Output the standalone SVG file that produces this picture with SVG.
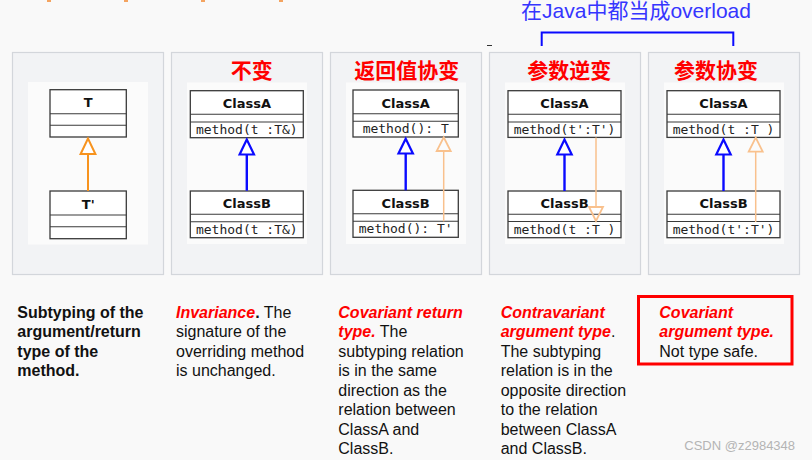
<svg xmlns="http://www.w3.org/2000/svg" width="812" height="460" viewBox="0 0 812 460">
<defs>
<style>
.panel{fill:#f2f3f5;stroke:#d3d6db;stroke-width:1.2}
.inner{fill:#fbfbfb}
.box{fill:#ffffff;stroke:#3a3a3a;stroke-width:1.3}
.div{stroke:#3a3a3a;stroke-width:1.1}
.cname{font-family:"DejaVu Sans",sans-serif;font-weight:bold;font-size:13px;fill:#111;text-anchor:middle}
.meth{font-family:"DejaVu Sans Mono",monospace;font-size:13px;fill:#222;text-anchor:middle}
.title{font-family:"Noto Sans CJK SC",sans-serif;font-weight:bold;font-size:21px;fill:#ff0000;text-anchor:middle}
.blue{stroke:#0a0aff;stroke-width:2.4;fill:none}
.bluetri{stroke:#0a0aff;stroke-width:2.2;fill:#ffffff}
.org{stroke:#f7931e;stroke-width:2;fill:none}
.orgtri{stroke:#f7931e;stroke-width:2;fill:#ffffff}
.lorg{stroke:#f9c18d;stroke-width:1.5;fill:none}
.lorgtri{stroke:#f9c18d;stroke-width:1.8;fill:none}
.desc{font-family:"Liberation Sans",Arial,sans-serif;font-size:16px;fill:#111}
.b{font-weight:bold}
.ri{font-weight:bold;font-style:italic;fill:#ff0000}
</style>
</defs>
<rect width="812" height="460" fill="#f9f9f9"/>
<g id="top-fragments" fill="#f4a460">
<rect x="47" y="0" width="4" height="2"/>
<rect x="124" y="0" width="4" height="2"/>
<rect x="201" y="0" width="4" height="2"/>
<rect x="279" y="0" width="4" height="2"/>
</g>
<g id="overload-label">
<text x="636" y="17.5" font-family="'Liberation Sans','Noto Sans CJK SC',sans-serif" font-size="21" fill="#3535ff" text-anchor="middle">在Java中都当成overload</text>
<path d="M541.7,46 V32.5 H733.3 V46" fill="none" stroke="#0a0aff" stroke-width="2"/>
<line x1="487" y1="45.5" x2="492" y2="45.5" stroke="#333" stroke-width="1"/>
</g>
<g id="panel1">
<rect class="panel" x="12.5" y="52.5" width="151" height="222"/>
<rect class="inner" x="28" y="82" width="120" height="162.5"/>
<g id="classT">
<rect class="box" x="50" y="89.7" width="76.3" height="47.3"/>
<line class="div" x1="50" y1="113.7" x2="126.3" y2="113.7"/>
<line class="div" x1="50" y1="125.3" x2="126.3" y2="125.3"/>
<text class="cname" x="88.2" y="107">T</text>
</g>
<g id="classT2">
<rect class="box" x="50" y="191" width="76.3" height="47.7"/>
<line class="div" x1="50" y1="215" x2="126.3" y2="215"/>
<line class="div" x1="50" y1="226.7" x2="126.3" y2="226.7"/>
<text class="cname" x="88.2" y="208.5">T'</text>
</g>
</g>
<g id="panel2">
<rect class="panel" x="171.5" y="52.5" width="151" height="222"/>
<rect class="inner" x="187" y="82.5" width="120" height="161.5"/>
<text class="title" x="251.7" y="77.5">不变</text>
<g id="p2A">
<rect class="box" x="190.3" y="90.7" width="113" height="47"/>
<line class="div" x1="190.3" y1="114.3" x2="303.3" y2="114.3"/>
<line class="div" x1="190.3" y1="122" x2="303.3" y2="122"/>
<text class="cname" x="246.8" y="108">ClassA</text>
<text class="meth" x="246.8" y="133.5">method(t :T&amp;)</text>
</g>
<g id="p2B">
<rect class="box" x="190.3" y="191" width="113" height="46.7"/>
<line class="div" x1="190.3" y1="214.3" x2="303.3" y2="214.3"/>
<line class="div" x1="190.3" y1="221.7" x2="303.3" y2="221.7"/>
<text class="cname" x="246.8" y="208.3">ClassB</text>
<text class="meth" x="246.8" y="233.5">method(t :T&amp;)</text>
</g>
</g>
<g id="panel3">
<rect class="panel" x="330.5" y="52.5" width="151" height="222"/>
<rect class="inner" x="346" y="82.5" width="120" height="161.5"/>
<text class="title" x="406.7" y="77.5">返回值协变</text>
<g id="p3A">
<rect class="box" x="353" y="90" width="105.3" height="47"/>
<line class="div" x1="353" y1="113.7" x2="458.3" y2="113.7"/>
<line class="div" x1="353" y1="121.3" x2="458.3" y2="121.3"/>
<text class="cname" x="405.7" y="107.5">ClassA</text>
<text class="meth" x="405.7" y="133">method(): T</text>
</g>
<g id="p3B">
<rect class="box" x="353" y="190.3" width="105.3" height="47"/>
<line class="div" x1="353" y1="213.7" x2="458.3" y2="213.7"/>
<line class="div" x1="353" y1="221.3" x2="458.3" y2="221.3"/>
<text class="cname" x="405.7" y="207.8">ClassB</text>
<text class="meth" x="405.7" y="233">method(): T'</text>
</g>
</g>
<g id="panel4">
<rect class="panel" x="489.5" y="52.5" width="151" height="222"/>
<rect class="inner" x="505" y="82.5" width="120" height="161.5"/>
<text class="title" x="569.2" y="77.5">参数逆变</text>
<g id="p4A">
<rect class="box" x="508" y="90.7" width="113" height="46.7"/>
<line class="div" x1="508" y1="114.3" x2="621" y2="114.3"/>
<line class="div" x1="508" y1="122" x2="621" y2="122"/>
<text class="cname" x="564.5" y="108">ClassA</text>
<text class="meth" x="564.5" y="133.5">method(t':T')</text>
</g>
<g id="p4B">
<rect class="box" x="508" y="191" width="113" height="46.7"/>
<line class="div" x1="508" y1="214.3" x2="621" y2="214.3"/>
<line class="div" x1="508" y1="221.5" x2="621" y2="221.5"/>
<text class="cname" x="564.5" y="208.3">ClassB</text>
<text class="meth" x="564.5" y="233.5">method(t :T )</text>
</g>
</g>
<g id="panel5">
<rect class="panel" x="648.5" y="52.5" width="151" height="222"/>
<rect class="inner" x="664" y="82.5" width="120" height="161.5"/>
<text class="title" x="716" y="77.5">参数协变</text>
<g id="p5A">
<rect class="box" x="667" y="90.7" width="113" height="46.7"/>
<line class="div" x1="667" y1="114.3" x2="780" y2="114.3"/>
<line class="div" x1="667" y1="122" x2="780" y2="122"/>
<text class="cname" x="723.5" y="108">ClassA</text>
<text class="meth" x="723.5" y="133.5">method(t :T )</text>
</g>
<g id="p5B">
<rect class="box" x="667" y="191" width="113" height="46.7"/>
<line class="div" x1="667" y1="214.3" x2="780" y2="214.3"/>
<line class="div" x1="667" y1="221.5" x2="780" y2="221.5"/>
<text class="cname" x="723.5" y="208.3">ClassB</text>
<text class="meth" x="723.5" y="233.5">method(t':T')</text>
</g>
</g>
<g id="connectors">
<line class="org" x1="88" y1="191" x2="88" y2="154"/>
<polygon class="orgtri" points="88,138.5 80.6,154 95.4,154"/>
<line class="blue" x1="246.8" y1="190.7" x2="246.8" y2="154.5"/>
<polygon class="bluetri" points="246.8,139.5 239.6,154.5 254,154.5"/>
<line class="blue" x1="405.7" y1="190.3" x2="405.7" y2="153.5"/>
<polygon class="bluetri" points="405.7,138.8 398.5,153.5 412.9,153.5"/>
<line class="blue" x1="564.5" y1="191" x2="564.5" y2="154.5"/>
<polygon class="bluetri" points="564.5,139.5 557.3,154.5 571.7,154.5"/>
<line class="blue" x1="723.5" y1="191" x2="723.5" y2="154.5"/>
<polygon class="bluetri" points="723.5,139.5 716.3,154.5 730.7,154.5"/>
<line class="lorg" x1="443.7" y1="221.3" x2="443.7" y2="151"/>
<polygon class="lorgtri" points="443.7,137.3 436.7,151 450.7,151"/>
<line class="lorg" x1="596" y1="137.4" x2="596" y2="207"/>
<polygon class="lorgtri" points="596,221 589,207 603,207"/>
<line class="lorg" x1="755.7" y1="222" x2="755.7" y2="151.7"/>
<polygon class="lorgtri" points="755.7,137.6 748.7,151.7 762.7,151.7"/>
</g>
<g id="desc1">
<text class="desc b" x="17.3" y="317.5">Subtyping of the</text>
<text class="desc b" x="17.3" y="337">argument/return</text>
<text class="desc b" x="17.3" y="356.5">type of the</text>
<text class="desc b" x="17.3" y="376">method.</text>
</g>
<g id="desc2">
<text class="desc" x="176" y="317.5"><tspan class="ri">Invariance</tspan><tspan class="b">.</tspan> The</text>
<text class="desc" x="176" y="337">signature of the</text>
<text class="desc" x="176" y="356.5">overriding method</text>
<text class="desc" x="176" y="376">is unchanged.</text>
</g>
<g id="desc3">
<text class="desc ri" x="338.3" y="317.5">Covariant return</text>
<text class="desc" x="338.3" y="337"><tspan class="ri">type.</tspan> The</text>
<text class="desc" x="338.3" y="356.5">subtyping relation</text>
<text class="desc" x="338.3" y="376">is in the same</text>
<text class="desc" x="338.3" y="395.5">direction as the</text>
<text class="desc" x="338.3" y="415">relation between</text>
<text class="desc" x="338.3" y="434.5">ClassA and</text>
<text class="desc" x="338.3" y="454">ClassB.</text>
</g>
<g id="desc4">
<text class="desc ri" x="500.7" y="317.5">Contravariant</text>
<text class="desc" x="500.7" y="337"><tspan class="ri">argument type</tspan>.</text>
<text class="desc" x="500.7" y="356.5">The subtyping</text>
<text class="desc" x="500.7" y="376">relation is in the</text>
<text class="desc" x="500.7" y="395.5">opposite direction</text>
<text class="desc" x="500.7" y="415">to the relation</text>
<text class="desc" x="500.7" y="434.5">between ClassA</text>
<text class="desc" x="500.7" y="454">and ClassB.</text>
</g>
<g id="desc5">
<rect x="638.5" y="296.5" width="153.5" height="67.5" fill="none" stroke="#ff0000" stroke-width="3"/>
<text class="desc ri" x="659.3" y="317.5">Covariant</text>
<text class="desc ri" x="659.3" y="337">argument type.</text>
<text class="desc" x="659.3" y="356.5">Not type safe.</text>
</g>
<text x="684.3" y="449.5" font-family="'Liberation Sans',Arial,sans-serif" font-size="13" fill="#b4b4b4">CSDN @z2984348</text>
</svg>
